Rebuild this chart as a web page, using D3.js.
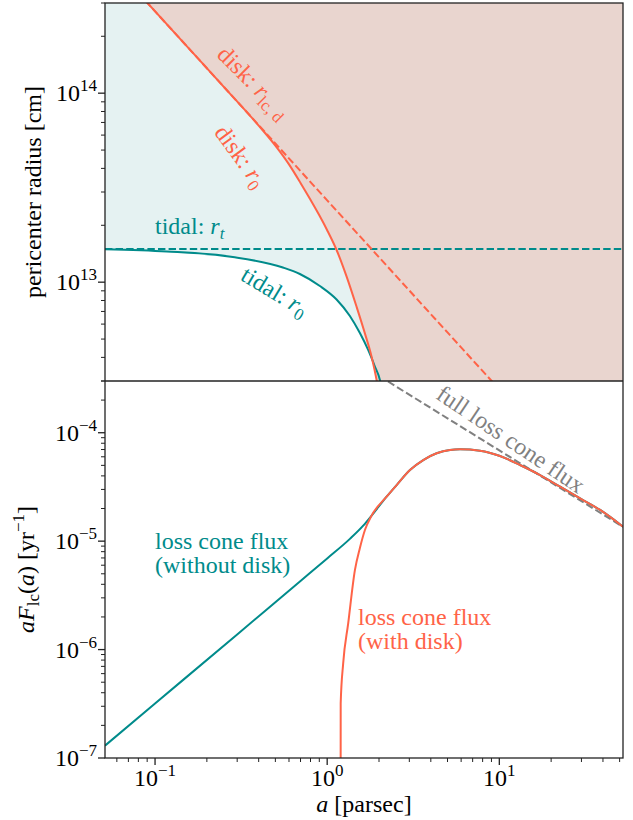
<!DOCTYPE html>
<html>
<head>
<meta charset="utf-8">
<script src="https://cdn.jsdelivr.net/npm/d3@7"></script>
<style>
  body { margin: 0; background: #fff; }
  text { font-family: "Liberation Serif", "Times New Roman", serif; }
</style>
</head>
<body>
<script>
// ---- data ----
// top panel: pericenter radius [cm]
var aTidal = [0.0512, 0.117, 0.283, 0.553, 0.694, 0.907, 1.134, 1.355, 1.549, 1.73, 1.893, 2.025, 2.08];
var rTidal = [1.493e13, 1.453e13, 1.359e13, 1.196e13, 1.105e13, 9.55e12, 8.10e12, 6.62e12, 5.38e12, 4.38e12, 3.58e12, 3.04e12, 2.7e12];
var rt = 1.5e13;

var aDisk = [0.085, 0.15, 0.25, 0.4, 0.5, 0.6, 0.7, 0.8, 0.9, 1.0, 1.134, 1.297, 1.482, 1.656, 1.811, 1.937, 1.99];
var rDisk = [3.19e14, 1.807e14, 1.084e14, 6.74e13, 5.28e13, 4.20e13, 3.35e13, 2.727e13, 2.258e13, 1.883e13, 1.48e13, 1.07e13, 7.41e12, 5.36e12, 4.03e12, 3.03e12, 2.6e12];

var aLcd = [0.08, 0.5, 1, 5, 10];
var rLcd = [3.39e14, 5.42e13, 2.71e13, 5.42e12, 2.71e12];

// bottom panel: a F_lc(a) [1/yr]
var aLow = [0.0512, 0.1, 0.3, 0.7, 1.0, 1.355, 1.619];
var fluxLow = [1.30e-7, 3.18e-7, 1.38e-6, 4.30e-6, 6.93e-6, 1.05e-5, 1.39e-5];
var aRise = [1.1965, 1.198, 1.2386, 1.3245, 1.449, 1.549, 1.657];
var fluxRise = [1e-9, 3.19e-7, 7.46e-7, 1.745e-6, 5.41e-6, 8.64e-6, 1.266e-5];
var aHigh = [1.811, 2.215, 2.532, 3.026, 3.615, 4.325, 5.17, 5.91, 7.72, 10.09, 13.19, 17.24, 22.54, 29.46, 38.5, 52.3];
var fluxHigh = [1.72e-5, 2.57e-5, 3.29e-5, 4.53e-5, 5.60e-5, 6.46e-5, 6.93e-5, 7.03e-5, 6.82e-5, 6.10e-5, 5.04e-5, 4.07e-5, 3.18e-5, 2.48e-5, 1.94e-5, 1.36e-5];
var aFull = [2.0, 5, 10, 20, 52.3];
var fluxFull = [3.34e-4, 1.358e-4, 6.87e-5, 3.48e-5, 1.355e-5];

var xTicks = [0.1, 1, 10];
var xTickExp = ["\u22121", "0", "1"];
var rTicks = [1e13, 1e14];
var rTickExp = ["13", "14"];
var fTicks = [1e-7, 1e-6, 1e-5, 1e-4];
var fTickExp = ["\u22127", "\u22126", "\u22125", "\u22124"];

var teal = "#008b8b", tomato = "#ff6347";

function zip(a, b) { return a.map(function(d, i) { return [d, b[i]]; }); }

var width = 633, height = 820;
var left = 105, right = 623, top1 = 3, mid = 381, bot = 758;

var svg = d3.select("body").append("svg")
    .attr("width", width)
    .attr("height", height);

var x = d3.scaleLog().domain([0.0512, 52.3]).range([left, right]);
var yR = d3.scaleLog().domain([3e12, 3e14]).range([mid, top1]);
var yF = d3.scaleLog().domain([1e-7, 3e-4]).range([bot, mid]);

var defs = svg.append("defs");
defs.append("clipPath").attr("id", "clipTop").append("rect")
    .attr("x", left).attr("y", top1).attr("width", right - left).attr("height", mid - top1);
defs.append("clipPath").attr("id", "clipBot").append("rect")
    .attr("x", left).attr("y", mid).attr("width", right - left).attr("height", bot - mid);

// ---------- top panel ----------
var gTop = svg.append("g").attr("clip-path", "url(#clipTop)");

var areaTop = function(ys) {
  return d3.area().x(function(d) { return x(d[0]); })
    .y0(top1).y1(function(d) { return ys(d[1]); })
    .curve(d3.curveMonotoneX);
};
gTop.append("path")
    .datum(zip(aTidal, rTidal))
    .attr("fill", "#e5f2f2")
    .attr("d", areaTop(yR));

var diskFill = zip(aDisk, rDisk).concat([[x.domain()[1], yR.domain()[0] * 0.8]]);
gTop.append("path")
    .datum(diskFill)
    .attr("fill", "#e9d5cf")
    .attr("d", areaTop(yR));

var lineR = d3.line().x(function(d) { return x(d[0]); }).y(function(d) { return yR(d[1]); })
    .curve(d3.curveMonotoneX);

gTop.append("path")
    .datum(x.domain().map(function(a) { return [a, rt]; }))
    .attr("fill", "none").attr("stroke", teal).attr("stroke-width", 2)
    .attr("stroke-dasharray", "7.4,3.2")
    .attr("d", lineR);

gTop.append("path")
    .datum(zip(aTidal, rTidal))
    .attr("fill", "none").attr("stroke", teal).attr("stroke-width", 2)
    .attr("d", lineR);

gTop.append("path")
    .datum(zip(aLcd, rLcd))
    .attr("fill", "none").attr("stroke", tomato).attr("stroke-width", 2)
    .attr("stroke-dasharray", "7.4,3.2")
    .attr("d", d3.line().x(function(d) { return x(d[0]); }).y(function(d) { return yR(d[1]); }));

gTop.append("path")
    .datum(zip(aDisk, rDisk))
    .attr("fill", "none").attr("stroke", tomato).attr("stroke-width", 2)
    .attr("d", lineR);

// ---------- bottom panel ----------
var gBot = svg.append("g").attr("clip-path", "url(#clipBot)");
var lineF = d3.line().x(function(d) { return x(d[0]); }).y(function(d) { return yF(d[1]); })
    .curve(d3.curveMonotoneX);

gBot.append("path")
    .datum(zip(aFull, fluxFull))
    .attr("fill", "none").attr("stroke", "#808080").attr("stroke-width", 2)
    .attr("stroke-dasharray", "7.4,3.2")
    .attr("d", d3.line().x(function(d) { return x(d[0]); }).y(function(d) { return yF(d[1]); }));

gBot.append("path")
    .datum(zip(aLow, fluxLow).concat(zip(aHigh, fluxHigh)))
    .attr("fill", "none").attr("stroke", teal).attr("stroke-width", 2)
    .attr("d", lineF);

gBot.append("path")
    .datum(zip(aRise, fluxRise).concat(zip(aHigh, fluxHigh)))
    .attr("fill", "none").attr("stroke", tomato).attr("stroke-width", 2)
    .attr("d", lineF);

// ---------- axes ----------
function minorTicks(scale) {
  var d = scale.domain(), out = [];
  for (var e = Math.floor(Math.log10(d[0])); e <= Math.ceil(Math.log10(d[1])); e++) {
    for (var m = 1; m < 10; m++) {
      var v = m * Math.pow(10, e);
      if (v >= d[0] * 0.999 && v <= d[1] * 1.001) out.push(v);
    }
  }
  return out;
}

var xAxis = svg.append("g").attr("transform", "translate(0," + bot + ")");
xAxis.selectAll("line.minor").data(minorTicks(x)).enter().append("line")
    .attr("x1", function(d) { return x(d); }).attr("x2", function(d) { return x(d); })
    .attr("y1", 0).attr("y2", function(d) { return xTicks.indexOf(d) >= 0 ? 7 : 4; })
    .attr("stroke", "#222").attr("stroke-width", function(d) { return xTicks.indexOf(d) >= 0 ? 1.3 : 1; });
xTicks.forEach(function(v, i) {
  var t = xAxis.append("text").attr("x", x(v)).attr("y", 28)
      .attr("text-anchor", "middle").attr("font-size", 24).text("10");
  t.append("tspan").attr("dy", -10).attr("font-size", 17).text(xTickExp[i]);
});

function yAxis(scale, ticks, exps) {
  var g = svg.append("g").attr("transform", "translate(" + left + ",0)");
  g.selectAll("line").data(minorTicks(scale)).enter().append("line")
      .attr("y1", function(d) { return scale(d); }).attr("y2", function(d) { return scale(d); })
      .attr("x1", 0).attr("x2", function(d) { return ticks.indexOf(d) >= 0 ? -7 : -4; })
      .attr("stroke", "#222").attr("stroke-width", function(d) { return ticks.indexOf(d) >= 0 ? 1.3 : 1; });
  ticks.forEach(function(v, i) {
    var t = g.append("text").attr("x", -8).attr("y", scale(v) + 8)
        .attr("text-anchor", "end").attr("font-size", 24).text("10");
    t.append("tspan").attr("dy", -10).attr("font-size", 17).text(exps[i]);
  });
}
yAxis(yR, rTicks, rTickExp);
yAxis(yF, fTicks, fTickExp);

// frames
svg.append("rect").attr("x", left).attr("y", top1).attr("width", right - left).attr("height", bot - top1)
    .attr("fill", "none").attr("stroke", "#222").attr("stroke-width", 1.3);
svg.append("line").attr("x1", left).attr("x2", right).attr("y1", mid).attr("y2", mid)
    .attr("stroke", "#222").attr("stroke-width", 1.3);

// axis labels
svg.append("text").attr("transform", "translate(33," + ((top1 + mid) / 2) + ") rotate(-90)")
    .attr("text-anchor", "middle").attr("dy", "0.35em").attr("font-size", 24)
    .text("pericenter radius [cm]");

var yl = svg.append("text").attr("transform", "translate(26," + ((mid + bot) / 2) + ") rotate(-90)")
    .attr("text-anchor", "middle").attr("dy", "0.35em").attr("font-size", 24);
yl.append("tspan").attr("font-style", "italic").text("aF");
yl.append("tspan").attr("font-size", 17).attr("dy", 5).text("lc");
yl.append("tspan").attr("dy", -5).text("(");
yl.append("tspan").attr("font-style", "italic").text("a");
yl.append("tspan").text(") [yr");
yl.append("tspan").attr("font-size", 17).attr("dy", -10).text("\u22121");
yl.append("tspan").attr("dy", 10).text("]");

var xl = svg.append("text").attr("x", (left + right) / 2).attr("y", 812)
    .attr("text-anchor", "middle").attr("font-size", 24);
xl.append("tspan").attr("font-style", "italic").text("a");
xl.append("tspan").text(" [parsec]");

// annotations
function rotLabel(cx, cy, ang, color, parts) {
  var t = svg.append("text").attr("transform", "translate(" + cx + "," + cy + ") rotate(" + ang + ")")
      .attr("text-anchor", "middle").attr("dy", "0.35em").attr("font-size", 24).attr("fill", color);
  parts.forEach(function(p) {
    var s = t.append("tspan").text(p.t);
    if (p.i) s.attr("font-style", "italic");
    if (p.s) s.attr("font-size", 17);
    if (p.dy) s.attr("dy", p.dy);
  });
  return t;
}

var tr = svg.append("text").attr("x", 155).attr("y", 234).attr("font-size", 24).attr("fill", teal);
tr.append("tspan").text("tidal: ");
tr.append("tspan").attr("font-style", "italic").text("r");
tr.append("tspan").attr("font-style", "italic").attr("font-size", 17).attr("dy", 5).text("t");

rotLabel(275, 291, 31, teal, [{t: "tidal: "}, {t: "r", i: 1}, {t: "0", s: 1, dy: 5}]);
rotLabel(254, 82, 45, tomato, [{t: "disk: "}, {t: "r", i: 1}, {t: "lc, d", s: 1, dy: 5}]);
rotLabel(241, 156, 54, tomato, [{t: "disk: "}, {t: "r", i: 1}, {t: "0", s: 1, dy: 5}]);
rotLabel(511, 439, 34, "#808080", [{t: "full loss cone flux"}]);

var n1 = svg.append("text").attr("font-size", 24).attr("fill", teal);
n1.append("tspan").attr("x", 155).attr("y", 549).text("loss cone flux");
n1.append("tspan").attr("x", 155).attr("y", 573).text("(without disk)");

var n2 = svg.append("text").attr("font-size", 24).attr("fill", tomato);
n2.append("tspan").attr("x", 358).attr("y", 625).text("loss cone flux");
n2.append("tspan").attr("x", 358).attr("y", 649).text("(with disk)");
</script>
</body>
</html>
